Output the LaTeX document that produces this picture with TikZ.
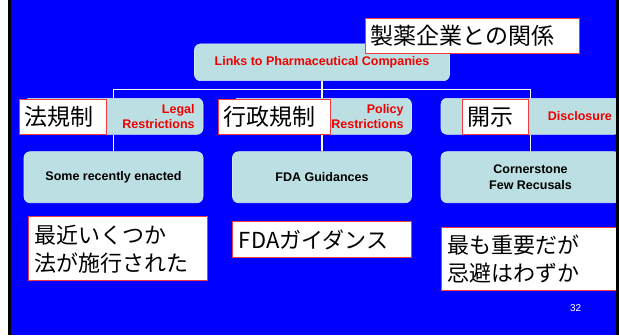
\documentclass[tikz,border=0pt]{standalone}
\usepackage{fontspec}
\setmainfont{Liberation Sans}
\newfontfamily\jpfont{Noto Sans CJK JP}
\definecolor{slideblue}{RGB}{0,0,255}
\definecolor{boxfill}{RGB}{188,223,228}
\definecolor{boxedge}{RGB}{214,236,240}
\definecolor{labelred}{RGB}{240,60,60}
\definecolor{textred}{RGB}{240,0,0}
\tikzset{
  card/.style={fill=boxfill, draw=boxedge, line width=0.6pt, rounded corners=6pt,
    minimum width=179pt, inner sep=0pt, align=center,
    font=\bfseries\fontsize{12.5}{15.6}\selectfont},
  conn/.style={draw=white, line width=1.2pt},
  jplabel/.style={draw=labelred, line width=0.9pt, fill=white, inner xsep=5.5pt,
    inner ysep=0pt, align=left, anchor=north west,
    font=\jpfont\fontsize{23}{28}\selectfont},
  jpnote/.style={jplabel, inner xsep=6.5pt, font=\jpfont\fontsize{22}{28}\selectfont},
  redtxt/.style={text=textred, inner sep=0pt,
    font=\bfseries\fontsize{12.5}{15.3}\selectfont},
}
\begin{document}
\begin{tikzpicture}[x=1pt,y=-1pt]
  \useasboundingbox (0,0) rectangle (619,335);
  % slide background
  \fill[slideblue] (11,0) rectangle (619,335);

  % organisation chart cards
  \node[card, minimum width=255pt, minimum height=36.7pt, text=textred] (links) at (322,62.3)
    {Links to Pharmaceutical Companies};
  \node[card, minimum height=36pt] (r2a) at (113.5,116.3) {};
  \node[card, minimum height=36pt] (r2b) at (322,116.3) {};
  \node[card, minimum height=36pt] (r2c) at (530.5,116.3) {};
  \node[card, minimum height=51pt] (r3a) at (113.5,177.2) {Some recently enacted};
  \node[card, minimum height=51pt] (r3b) at (322,177.2) {FDA Guidances};
  \node[card, minimum height=51pt] (r3c) at (530.5,177.2) {Cornerstone\\Few Recusals};

  % connectors
  \coordinate (hub) at (322,89.5);
  \draw[conn] (links.south) -- (hub);
  \draw[conn] (r2a.north) |- (hub) -| (r2c.north);
  \draw[conn] (hub) -- (r2b.north);
  \draw[conn] (r2a.south) -- (r3a.north);
  \draw[conn] (r2b.south) -- (r3b.north);
  \draw[conn] (r2c.south) -- (r3c.north);

  % English captions of the second row
  \node[redtxt, anchor=east, align=right] (legal) at ([xshift=-8.5pt]r2a.east)
    {Legal\\Restrictions};
  \node[redtxt, anchor=east, align=right] (policy) at ([xshift=-8pt]r2b.east)
    {Policy\\Restrictions};
  \node[redtxt, anchor=west] (disclosure) at ([xshift=107pt]r2c.west) {Disclosure};

  % Japanese labels
  \node[jplabel, text width=203pt, minimum height=35.8pt] (title) at (365,17.5)
    {製薬企業との関係};
  \node[jplabel, text width=76.5pt, minimum height=35.3pt] (houkisei) at (18.5,99)
    {法規制};
  \node[jplabel, text width=101pt, minimum height=35.3pt] (gyosei) at (217.5,99)
    {行政規制};
  \node[jplabel, text width=55.5pt, minimum height=35.3pt] (kaiji) at (461.5,99)
    {開示};
  \node[jpnote, text width=166pt, minimum height=64pt] (notea) at (28,216.3)
    {最近いくつか\\法が施行された};
  \node[jpnote, text width=166pt, minimum height=35.4pt] (noteb) at (232,221.3)
    {FDAガイダンス};
  \node[jpnote, text width=171pt, minimum height=63.6pt] (notec) at (441,226.7)
    {最も重要だが\\忌避はわずか};

  % page number
  \node[text=white, inner sep=0pt, font=\fontsize{10}{12}\selectfont] (pageno)
    at (575.6,308) {32};

  % slide edges
  \fill[white] (0,0) rectangle (8,335);
  \fill[black] (8,0) rectangle (11,335);
  \fill[black] (616,0) rectangle (619,335);
\end{tikzpicture}
\end{document}
